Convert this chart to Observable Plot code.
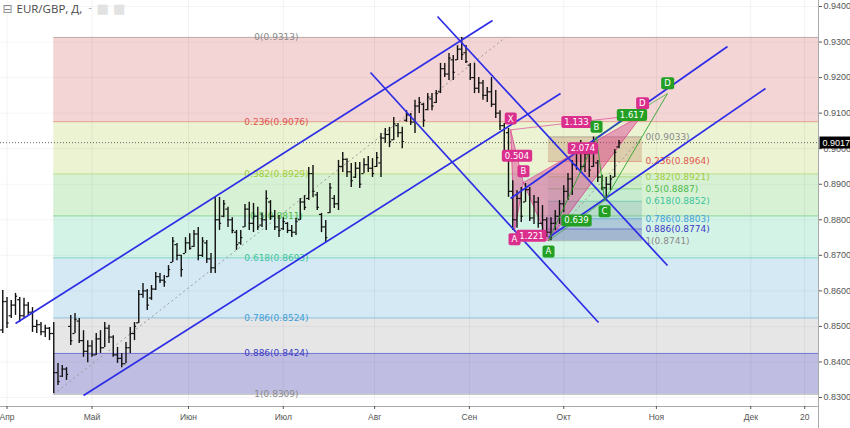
<!DOCTYPE html>
<html><head><meta charset="utf-8">
<script src="https://cdn.jsdelivr.net/npm/d3@7"></script>
<script src="https://cdn.jsdelivr.net/npm/@observablehq/plot@0.6"></script>
<style>
html,body{margin:0;padding:0;background:#fff;}
#chart svg{display:block;}
</style></head><body><div id="chart"></div>
<script>
// ---------------- data ----------------
const symbolTitle = "EUR/GBP, Д,";
const firstBar = -1; // bar index 0 = first trading day of April (bars are evenly spaced, weekends skipped)
// [open, high, low, close] per daily bar
const ohlc = [
[.8490,.8601,.8480,.8570],[.8570,.8581,.8494,.8510],[.8530,.8573,.8522,.8560],[.8560,.8593,.8531,.8585],
[.8575,.8581,.8511,.8530],[.8530,.8579,.8522,.8560],[.8560,.8567,.8531,.8540],[.8540,.8553,.8483,.8500],
[.8500,.8517,.8480,.8505],[.8505,.8511,.8474,.8485],[.8485,.8503,.8469,.8495],[.8495,.8497,.8460,.8480],
[.8480,.8511,.8311,.8370],[.8370,.8396,.8334,.8345],[.8360,.8390,.8356,.8380],[.8380,.8384,.8348,.8365],
[.8500,.8531,.8446,.8460],[.8480,.8536,.8480,.8520],[.8515,.8522,.8452,.8460],[.8460,.8488,.8413,.8430],
[.8430,.8460,.8398,.8445],[.8445,.8460,.8413,.8420],[.8420,.8480,.8418,.8465],[.8465,.8488,.8424,.8440],
[.8440,.8511,.8441,.8495],[.8495,.8503,.8452,.8470],[.8470,.8474,.8413,.8420],[.8420,.8441,.8396,.8410],
[.8410,.8424,.8384,.8395],[.8395,.8455,.8396,.8440],[.8440,.8497,.8424,.8480],[.8480,.8511,.8460,.8500],
[.8510,.8601,.8508,.8590],[.8590,.8621,.8579,.8600],[.8600,.8604,.8545,.8560],[.8580,.8615,.8573,.8605],
[.8605,.8652,.8601,.8640],[.8640,.8649,.8621,.8630],[.8630,.8643,.8610,.8625],[.8640,.8671,.8638,.8660],
[.8680,.8750,.8680,.8740],[.8730,.8733,.8685,.8700],[.8700,.8700,.8638,.8660],[.8705,.8750,.8705,.8735],
[.8735,.8761,.8714,.8720],[.8725,.8770,.8722,.8760],[.8760,.8778,.8685,.8700],[.8700,.8750,.8694,.8740],
[.8735,.8742,.8677,.8690],[.8690,.8705,.8649,.8665],[.8665,.8863,.8649,.8800],[.8800,.8863,.8770,.8790],
[.8810,.8854,.8806,.8845],[.8830,.8835,.8778,.8800],[.8800,.8806,.8761,.8770],[.8765,.8770,.8714,.8730],
[.8735,.8770,.8728,.8750],[.8780,.8843,.8778,.8830],[.8830,.8849,.8770,.8790],[.8790,.8846,.8764,.8810],
[.8810,.8835,.8770,.8780],[.8785,.8818,.8778,.8800],[.8800,.8882,.8770,.8860],[.8850,.8854,.8798,.8810],
[.8810,.8826,.8770,.8780],[.8780,.8812,.8750,.8770],[.8775,.8806,.8770,.8795],[.8790,.8792,.8761,.8770],
[.8770,.8784,.8750,.8765],[.8765,.8804,.8756,.8795],[.8800,.8860,.8798,.8850],[.8850,.8868,.8826,.8835],
[.8860,.8947,.8854,.8930],[.8930,.8953,.8862,.8880],[.8870,.8877,.8826,.8835],[.8815,.8818,.8764,.8780],
[.8780,.8798,.8736,.8750],[.8820,.8902,.8818,.8890],[.8860,.8868,.8832,.8845],[.8845,.8967,.8826,.8950],
[.8950,.8989,.8933,.8970],[.8970,.8972,.8919,.8935],[.8935,.8958,.8891,.8910],[.8920,.8961,.8916,.8945],
[.8945,.8961,.8888,.8900],[.8930,.8972,.8930,.8955],[.8955,.8978,.8933,.8945],[.8945,.8972,.8919,.8930],
[.8950,.8989,.8947,.8975],[.8960,.9043,.8919,.9030],[.9030,.9057,.9015,.9040],[.9040,.9060,.9003,.9020],
[.9025,.9088,.9023,.9070],[.9065,.9071,.9031,.9045],[.9045,.9060,.9000,.9020],[.9080,.9107,.9074,.9095],
[.9095,.9099,.9065,.9075],[.9075,.9136,.9043,.9120],[.9120,.9144,.9099,.9130],[.9125,.9127,.9060,.9080],
[.9110,.9155,.9107,.9145],[.9140,.9155,.9107,.9120],[.9130,.9164,.9127,.9155],[.9160,.9240,.9155,.9225],
[.9225,.9240,.9200,.9210],[.9210,.9268,.9192,.9255],[.9250,.9262,.9192,.9215],[.9250,.9290,.9248,.9280],
[.9280,.9313,.9248,.9265],[.9270,.9290,.9240,.9245],[.9235,.9240,.9192,.9200],[.9200,.9240,.9155,.9170],
[.9170,.9200,.9155,.9185],[.9185,.9192,.9136,.9150],[.9150,.9172,.9130,.9160],[.9160,.9200,.9116,.9125],
[.9125,.9164,.9085,.9100],[.9100,.9107,.9051,.9065],[.9065,.9071,.8981,.8995],[.9045,.9057,.8863,.8880],
[.8880,.8910,.8770,.8800],[.8800,.8882,.8776,.8860],[.8860,.8891,.8792,.8810],[.8850,.8902,.8849,.8885],
[.8885,.8891,.8795,.8805],[.8805,.8868,.8787,.8850],[.8850,.8863,.8776,.8790],[.8790,.8840,.8770,.8800],
[.8800,.8806,.8750,.8765],[.8765,.8806,.8741,.8790],[.8790,.8826,.8770,.8810],[.8810,.8854,.8787,.8845],
[.8845,.8896,.8820,.8880],[.8880,.8930,.8854,.8915],[.8915,.8967,.8868,.8955],[.8955,.9009,.8939,.8990],
[.8990,.9023,.8930,.8950],[.8950,.8995,.8933,.8985],[.8985,.9000,.8919,.8940],[.8950,.9033,.8947,.9020],
[.8960,.8967,.8905,.8920],[.8920,.8925,.8882,.8890],[.8890,.8919,.8852,.8900],[.8900,.8925,.8882,.8915],
[.8920,.8998,.8919,.8990],[.9005,.9023,.9000,.9017]
];
const lastPrice = 0.9017;

// time axis (bar index of each month label)
const monthTickIndex = [0, 20, 42.7, 65, 86.5, 108.8, 131, 152.8, 175, 187.7];
const monthTickLabel = ["Апр", "Май", "Июн", "Июл", "Авг", "Сен", "Окт", "Ноя", "Дек", "20"];
// price axis
const priceTicks = [0.83, 0.84, 0.85, 0.86, 0.87, 0.88, 0.89, 0.90, 0.91, 0.92, 0.93, 0.94];

// big Fibonacci retracement (low bar -> 0.9313)
const fibLevels = [0, 0.236, 0.382, 0.5, 0.618, 0.786, 0.886, 1];
const fibPrices = [0.9313, 0.9076, 0.8929, 0.8811, 0.8693, 0.8524, 0.8424, 0.8309];
const fibAnchors = [[11, 0.8309], [117.3, 0.9313]];
const fibLabelIndex = 63.4;
// small Fibonacci retracement (A -> B of the ABCD)
const smallFibPrices = [0.9033, 0.8964, 0.8921, 0.8887, 0.8852, 0.8803, 0.8774, 0.8741];
const smallFibAnchors = [[127.4, 0.8741], [149.5, 0.9033]];

// trend channels (bar index, price)
const channelLines = [
  [2.0, 0.85082, 114.24, 0.93606],
  [18.0, 0.83056, 130.24, 0.91552],
  [101.29, 0.93719, 155.41, 0.86713],
  [85.53, 0.92143, 139.18, 0.85110],
  [118.47, 0.88598, 169.53, 0.92875],
  [127.41, 0.87501, 178.47, 0.91693]
];

// harmonic XABCD pattern (pink) and ABCD pattern (green)
const pinkNames = ["X", "A", "B", "C", "D"];
const pinkIndex = [118.5, 119.4, 121.5, 127.4, 149.5];
const pinkPrice = [0.9053, 0.8767, 0.8905, 0.8741, 0.9096];
const pinkRatios = [["X", "B", "0.504"], ["A", "C", "1.221"], ["B", "D", "2.074"], ["X", "D", "1.133"]];
const pinkShownLabels = ["X", "A", "B", "D"]; // pink C is covered by the green A in the reference
const greenNames = ["A", "B", "C", "D"];
const greenIndex = [127.4, 138.7, 140.6, 155.4];
const greenPrice = [0.8741, 0.9033, 0.8854, 0.9155];
const greenRatios = [["A", "C", "0.639"], ["B", "D", "1.617"]];

// ---------------- styles ----------------
const X0 = -1.53, X1 = 190.94, Y0 = 0.82747, Y1 = 0.94169;
const bigBandFill = ["#f4d5d5", "#ebf3d3", "#d7f1d5", "#d4f3e7", "#d4e9f4", "#e6e6e6", "#bfbee2"];
const fibColor = ["#8a8a8a", "#e0564f", "#a2cc3c", "#4cbb4c", "#3cc49c", "#3f9fd6", "#3b3bc4", "#8a8a8a"];
const smallBandFill = ["#b86a45", "#f0f2c0", "#9ad48a", "#7fd0b0", "#4f8f9f", "#4a62b8", "#3a3aa0"];
const smallBandOpacity = [0.28, 0.2, 0.18, 0.18, 0.22, 0.28, 0.32];
const PINK = "#db2f8d", GREEN = "#23a023", BLUE = "#2d2de6";
// sentinel text colours identify which label texts get a box behind them
const TXT_PINK = "#fffffe", TXT_GREEN = "#fffffd", TXT_BLACK = "#fffffc";

// ---------------- derived tables ----------------
const bars = ohlc.map((d, k) => ({i: firstBar + k, o: d[0], h: d[1], l: d[2], c: d[3]}));
const bands = fibPrices.slice(1).map((p, k) => ({top: fibPrices[k], bottom: p, fill: bigBandFill[k]}));
const levels = fibLevels.map((lv, k) => ({lv, p: fibPrices[k], color: fibColor[k]}));
const smallBands = smallFibPrices.slice(1).map((p, k) => ({top: smallFibPrices[k], bottom: p, fill: smallBandFill[k], op: smallBandOpacity[k]}));
const smallLevels = fibLevels.map((lv, k) => ({lv, p: smallFibPrices[k], color: fibColor[k]}));
const channels = channelLines.map(([a, b, c, d]) => ({x1: a, y1: b, x2: c, y2: d}));
const pink = Object.fromEntries(pinkNames.map((n, k) => [n, {n, x: pinkIndex[k], y: pinkPrice[k]}]));
const green = Object.fromEntries(greenNames.map((n, k) => [n, {n, x: greenIndex[k], y: greenPrice[k]}]));
const tri = [["X","A","B"],["B","C","D"]].flatMap((t, z) => t.map(n => ({...pink[n], z})));
const seg = (pts, pairs) => pairs.map(([a, b, t]) => ({x1: pts[a].x, y1: pts[a].y, x2: pts[b].x, y2: pts[b].y, t, mx: (pts[a].x + pts[b].x) / 2, my: (pts[a].y + pts[b].y) / 2}));
const pinkSeg = seg(pink, pinkRatios);
const greenDash = seg(green, greenRatios);
const greenSolid = seg(green, [["A","B"],["B","C"],["C","D"]]);
const isAbove = n => n === "X" || n === "B" || n === "D";
const pinkPts = pinkShownLabels.map(n => pink[n]);
const greenPts = greenNames.map(n => green[n]);
const labelOf = new Map(monthTickIndex.map((v, k) => [v, monthTickLabel[k]]));
const dash = [fibAnchors, smallFibAnchors].map(([[a, b], [c, d]]) => ({x1: a, y1: b, x2: c, y2: d}));

const boxText = {fontFamily: "DejaVu Sans, sans-serif", fontSize: 8.5, textAnchor: "middle"};

const chart = Plot.plot({
  width: 850, height: 428,
  marginLeft: 0, marginRight: 32, marginTop: 0, marginBottom: 22,
  x: {domain: [X0, X1], label: null},
  y: {domain: [Y0, Y1], label: null},
  color: {type: "identity"},
  style: {fontFamily: "Liberation Sans, Arial, sans-serif", fontSize: "9px", color: "#555", background: "#fff", overflow: "visible"},
  marks: [
    // fib bands
    Plot.rect(bands, {x1: fibAnchors[0][0], x2: X1, y1: "bottom", y2: "top", fill: "fill"}),
    Plot.gridX(monthTickIndex, {stroke: "#000", strokeOpacity: 0.05}),
    Plot.gridY(priceTicks, {stroke: "#000", strokeOpacity: 0.04}),
    Plot.ruleY(levels, {y: "p", x1: fibAnchors[0][0], x2: X1, stroke: "color", strokeOpacity: 0.55}),
    Plot.text(levels, {x: fibLabelIndex, y: "p", text: d => `${d.lv}(${d.p.toFixed(4)})`, fill: "color", fontFamily: "DejaVu Sans, sans-serif", fontSize: 9}),
    // small fib
    Plot.rect(smallBands, {x1: smallFibAnchors[0][0], x2: smallFibAnchors[1][0], y1: "bottom", y2: "top", fill: "fill", fillOpacity: "op"}),
    Plot.ruleY(smallLevels, {y: "p", x1: smallFibAnchors[0][0], x2: smallFibAnchors[1][0], stroke: "color", strokeOpacity: 0.5}),
    Plot.text(smallLevels, {x: smallFibAnchors[1][0], y: "p", dx: 3, textAnchor: "start", text: d => `${d.lv}(${d.p.toFixed(4)})`, fill: "color", fontFamily: "DejaVu Sans, sans-serif", fontSize: 9}),
    // dotted lines
    Plot.link(dash, {x1: "x1", y1: "y1", x2: "x2", y2: "y2", stroke: "#999", strokeDasharray: "2,3", strokeWidth: 1}),
    Plot.ruleY([lastPrice], {x1: X0, x2: X1, stroke: "#444", strokeDasharray: "1,2", strokeOpacity: 0.8}),
    // pink pattern fill
    Plot.line(tri, {x: "x", y: "y", z: "z", fill: PINK, fillOpacity: 0.42, stroke: PINK, strokeOpacity: 0.7, strokeWidth: 1}),
    // OHLC bars
    Plot.ruleX(bars, {x: "i", y1: "l", y2: "h", stroke: "#111", strokeWidth: 1.4}),
    Plot.ruleY(bars, {y: "o", x1: d => d.i - 0.5, x2: "i", stroke: "#111", strokeWidth: 1.2}),
    Plot.ruleY(bars, {y: "c", x1: "i", x2: d => d.i + 0.5, stroke: "#111", strokeWidth: 1.2}),
    // channels
    Plot.link(channels, {x1: "x1", y1: "y1", x2: "x2", y2: "y2", stroke: BLUE, strokeWidth: 1.7}),
    // pattern lines
    Plot.link(pinkSeg, {x1: "x1", y1: "y1", x2: "x2", y2: "y2", stroke: PINK, strokeOpacity: 0.6, strokeWidth: 1}),
    Plot.link(greenSolid, {x1: "x1", y1: "y1", x2: "x2", y2: "y2", stroke: GREEN, strokeOpacity: 0.85, strokeWidth: 1}),
    Plot.link(greenDash, {x1: "x1", y1: "y1", x2: "x2", y2: "y2", stroke: GREEN, strokeOpacity: 0.6, strokeWidth: 1}),
    // pattern labels (boxes added after render)
    Plot.text(pinkSeg, {x: "mx", y: "my", text: "t", ...boxText, fill: TXT_PINK}),
    Plot.text(pinkPts.filter(d => isAbove(d.n)), {x: "x", y: "y", text: "n", dy: -11, ...boxText, fill: TXT_PINK}),
    Plot.text(pinkPts.filter(d => !isAbove(d.n)), {x: "x", y: "y", text: "n", dy: 8, ...boxText, fill: TXT_PINK}),
    Plot.text(greenDash, {x: "mx", y: "my", text: "t", ...boxText, fill: TXT_GREEN}),
    Plot.text(greenPts.filter(d => isAbove(d.n)), {x: "x", y: "y", text: "n", dy: -10, ...boxText, fill: TXT_GREEN}),
    Plot.text(greenPts.filter(d => !isAbove(d.n)), {x: "x", y: "y", text: "n", dy: 11, ...boxText, fill: TXT_GREEN}),
    // axes frame
    Plot.ruleY([Y0], {x1: X0, x2: X1, stroke: "#aaa"}),
    Plot.ruleX([X1], {y1: 0.8212, y2: Y1, stroke: "#aaa"}),
    Plot.axisY({anchor: "right", ticks: priceTicks, tickFormat: d => d.toFixed(4), tickSize: 3, tickPadding: 2, fontSize: 9, label: null}),
    Plot.axisX({anchor: "bottom", ticks: monthTickIndex, tickFormat: d => labelOf.get(d), tickSize: 3, tickPadding: 4, fontSize: 8.5, label: null}),
    Plot.text([lastPrice], {x: X1, y: d => d, text: d => d.toFixed(4), textAnchor: "start", dx: 4, fill: TXT_BLACK, fontSize: 9}),
    // header
    Plot.text(["⊟"], {frameAnchor: "top-left", dx: 2, dy: 4, text: d => d, fill: "#888", fontSize: 12, textAnchor: "start", lineAnchor: "top", fontFamily: "DejaVu Sans, sans-serif"}),
    Plot.text([symbolTitle], {frameAnchor: "top-left", dx: 16, dy: 4, text: d => d, fill: "#4a4a4a", fontSize: 11.5, textAnchor: "start", lineAnchor: "top", fontFamily: "Open Sans, sans-serif"}),
    Plot.text(["-"], {frameAnchor: "top-left", dx: 88, dy: 3, text: d => d, fill: "#aaa", fontSize: 10, textAnchor: "start", lineAnchor: "top"}),
    Plot.text(["■ ■"], {frameAnchor: "top-left", dx: 96, dy: 3, text: d => d, fill: "#e2e2e2", fontSize: 13, textAnchor: "start", lineAnchor: "top", fontFamily: "DejaVu Sans, sans-serif"})
  ]
});
document.getElementById("chart").append(chart);

// label boxes behind text
const ns = "http://www.w3.org/2000/svg";
const boxFill = [[TXT_PINK, PINK, 2], [TXT_GREEN, GREEN, 2], [TXT_BLACK, "#000", 0]];
for (const [sentinel, fill, rx] of boxFill) {
  chart.querySelectorAll("g").forEach(g => {
    if ((g.getAttribute("fill") || "").toLowerCase() !== sentinel) return;
    g.setAttribute("fill", "#ffffff");
    g.querySelectorAll("text").forEach(t => {
      const b = t.getBBox();
      const r = document.createElementNS(ns, "rect");
      r.setAttribute("x", b.x - 3);
      r.setAttribute("y", b.y - 1);
      r.setAttribute("width", b.width + 6);
      r.setAttribute("height", b.height + 2);
      r.setAttribute("rx", rx);
      r.setAttribute("fill", fill);
      const tr = t.getAttribute("transform");
      if (tr) r.setAttribute("transform", tr);
      t.parentNode.insertBefore(r, t);
    });
  });
}
</script>
</body></html>
